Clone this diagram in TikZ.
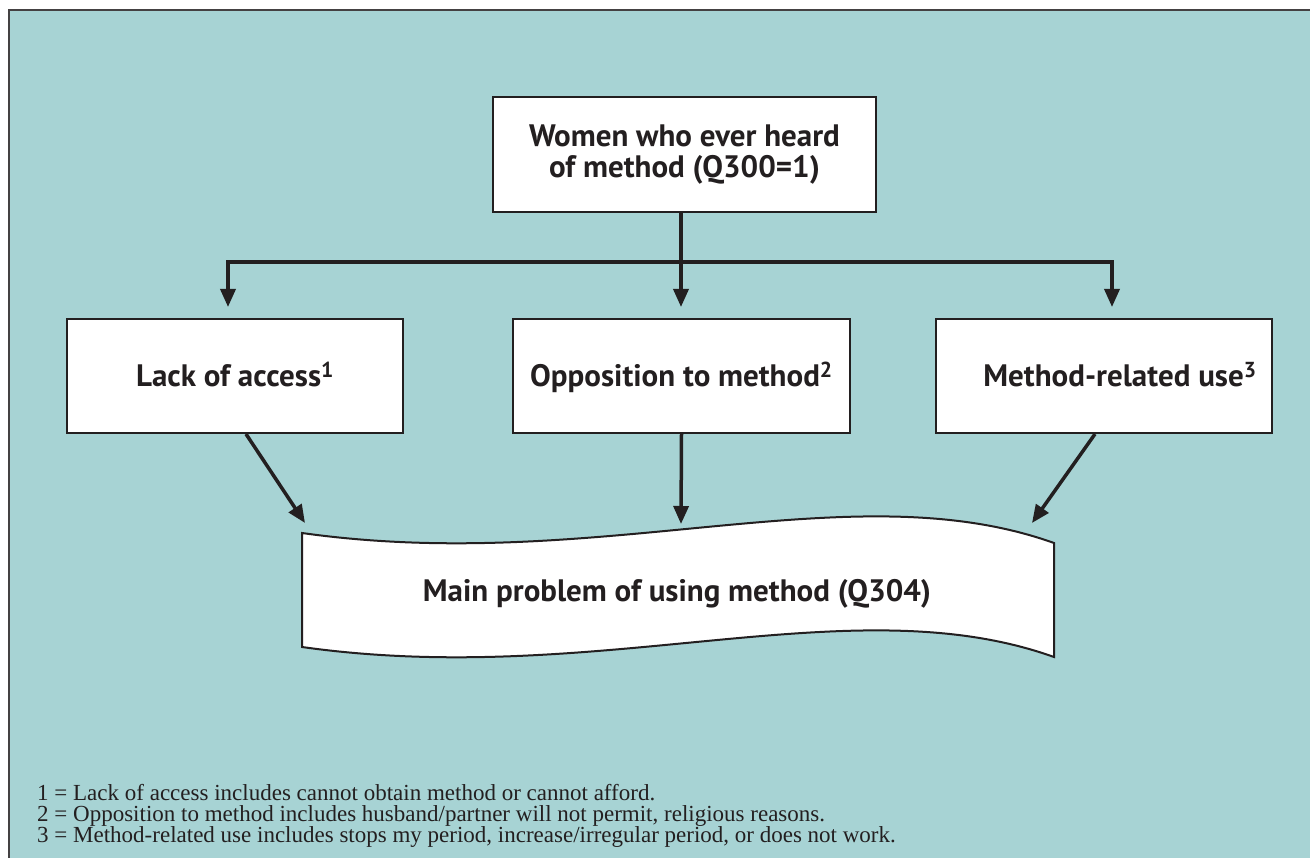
\documentclass[tikz,border=0pt]{standalone}
\usepackage{fontspec}
\setmainfont{Liberation Serif}
\newfontfamily\boxfont{PT Sans}
\usetikzlibrary{arrows.meta}
\definecolor{tealbg}{RGB}{167,211,212}
\definecolor{ink}{RGB}{35,31,32}
\begin{document}
\begin{tikzpicture}[x=1pt,y=-1pt,
  box/.style={draw=ink,line width=2pt,fill=white,inner sep=0pt},
  lbl/.style={font=\boxfont\bfseries\fontsize{31}{30.5}\selectfont,text=ink},
  one/.style={text height=22pt,text depth=0pt},
  line/.style={draw=ink,line width=3.5pt},
  conn/.style={draw=ink,line width=3.5pt,-{Triangle[width=15pt,length=18pt]}},
  note/.style={font=\fontsize{23}{22}\selectfont,text=ink,anchor=base west,inner sep=0pt}]
\useasboundingbox (0,0) rectangle (1310,858);
\fill[white] (0,0) rectangle (1310,858);
\fill[tealbg] (9,10) rectangle (1320,870);
\draw[ink!85!white,line width=2pt] (9,870) -- (9,10) -- (1320,10);

% boxes
\node[box,lbl,align=center,minimum width=383pt,minimum height=115pt] (top) at (684.5,154.5)
  {Women who ever heard\\of method (Q300=1)};
\node[box,lbl,one,minimum width=336pt,minimum height=114pt] (lack) at (235,376)
  {Lack of access\textsuperscript{1}};
\node[box,lbl,one,minimum width=337pt,minimum height=114pt] (mid) at (681.5,376)
  {Opposition to method\textsuperscript{2}};
\node[box,lbl,one,minimum width=336pt,minimum height=114pt] (meth) at (1104,376)
  {\hspace*{32pt}Method-related use\textsuperscript{3}};

% banner
\draw[ink,line width=2pt,fill=white]
  (302,533) .. controls (600,575) and (850,470) .. (1054,543)
  -- (1054,657) .. controls (850,584) and (600,689) .. (302,647) -- cycle;
\node[lbl,anchor=base,inner sep=0pt] (prob) at (677,601) {Main problem of using method (Q304)};

% connectors
\coordinate (j) at (681,262);
\coordinate (jl) at (228,262);
\coordinate (jr) at (1112,262);
\coordinate (tl) at (305,523);
\coordinate (tm) at (681,524);
\coordinate (tr) at (1032,523);
\draw[line] (top.south -| j) -- (j);
\draw[conn,shorten >=11pt] (jr) -- (jl) -- (jl |- lack.north);
\draw[conn,shorten >=11pt] (jl) -- (jr) -- (jr |- meth.north);
\draw[conn,shorten >=11pt] (j) -- (j |- mid.north);
\draw[conn] ([xshift=11pt]lack.south) -- (tl);
\draw[conn] (mid.south) -- (tm);
\draw[conn] ([xshift=-9pt]meth.south) -- (tr);

% notes
\node[note] (n1) at (37,800) {1 = Lack of access includes cannot obtain method or cannot afford.};
\node[note] (n2) at (37,821) {2 = Opposition to method includes husband/partner will not permit, religious reasons.};
\node[note] (n3) at (37,842) {3 = Method-related use includes stops my period, increase/irregular period, or does not work.};
\end{tikzpicture}
\end{document}
